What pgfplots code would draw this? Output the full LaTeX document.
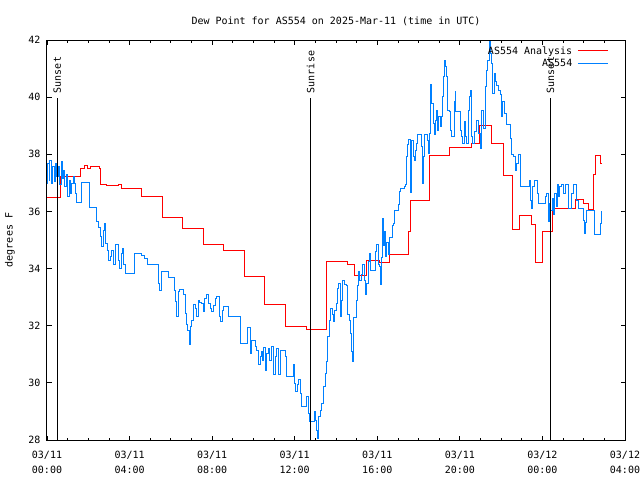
\documentclass[border=0pt]{standalone}
\usepackage{fontspec}
\setmainfont{DejaVu Sans Mono}
\usepackage{pgfplots}
\pgfplotsset{compat=1.18}
\definecolor{obsblue}{RGB}{0,128,255}
\newcommand{\legline}[1]{\hspace{5pt}\tikz[baseline=-3.5pt]\draw[#1, line width=1pt] (0pt,0pt) -- (30pt,0pt);}
\begin{document}
\fontsize{10}{12}\selectfont
\begin{tikzpicture}
\useasboundingbox (-47pt,-40pt) rectangle (593pt,440pt);
\begin{axis}[
  at={(0pt,0pt)}, anchor=south west,
  scale only axis, width=578pt, height=400pt,
  xmin=0, xmax=28, ymin=28, ymax=42,
  xtick={0,4,...,28}, minor x tick num=3,
  xticklabels={{03/11\\00:00},{03/11\\04:00},{03/11\\08:00},{03/11\\12:00},{03/11\\16:00},{03/11\\20:00},{03/12\\00:00},{03/12\\04:00}},
  xticklabel style={align=center, font=\fontsize{10}{15}\selectfont, yshift=-8pt},
  ytick={28,30,...,42},
  yticklabel style={font=\fontsize{10}{12}\selectfont, xshift=-3pt},
  /pgf/number format/assume math mode=true,
  tick align=inside, major tick length=4.5pt, minor tick length=2.5pt,
  axis line style={line width=1pt}, tick style={black, line width=0.8pt},
  title={Dew Point for AS554 on 2025-Mar-11 (time in UTC)},
  title style={font=\fontsize{10}{12}\selectfont, yshift=5pt},
  ylabel={degrees F},
  every axis y label/.style={at={(axis description cs:-0.064,0.5)}, rotate=90, anchor=center, font=\fontsize{10}{12}\selectfont},
  legend plot pos=none,
  legend cell align=right,
  legend style={at={(rel axis cs:0.974,0.9875)}, anchor=north east, draw=none, fill=none,
    font=\fontsize{10}{12}\selectfont, nodes={inner sep=1.5pt, text height=7.5pt, text depth=2pt}, inner sep=0pt},
]
\addplot[color=red, line width=1pt, const plot] coordinates {
(0,36.49) (0.63,37.24) (1.63,37.5) (1.80,37.6) (1.95,37.5) (2.10,37.58) (2.55,37.5)
(2.60,36.96) (2.90,36.9) (3.46,36.96) (3.62,36.82) (4.60,36.54) (5.60,35.8) (6.57,35.42)
(7.57,34.86) (8.54,34.65) (9.56,33.74) (10.56,32.75) (11.56,31.99) (12.55,31.88)
(13.55,34.25) (14.55,34.16) (14.90,33.76) (15.49,34.29) (16.13,34.2) (16.59,34.51)
(17.52,35.3) (17.60,36.4) (18.52,37.96) (19.49,38.24) (20.55,38.38) (20.93,39.01)
(21.54,38.38) (22.11,37.26) (22.54,35.37) (22.87,35.86) (23.48,35.56) (23.68,34.22)
(24.01,35.30) (24.50,36.12) (25.58,36.42) (25.98,36.28) (26.23,36.07) (26.47,37.3)
(26.58,37.96) (26.82,37.68) (26.87,37.68)
};
\addlegendentry{AS554 Analysis\legline{red}}
\addplot[color=obsblue, line width=1pt, const plot] coordinates {
(0.00,36.98) (0.03,37.68) (0.10,37.10) (0.145,37.80) (0.23,36.98) (0.29,37.57) (0.36,37.04)
(0.42,37.68) (0.48,37.22) (0.55,37.57) (0.61,36.93) (0.68,37.74) (0.74,37.16) (0.81,37.45)
(0.87,36.87) (0.94,37.28) (1.00,36.52) (1.07,37.10) (1.13,36.63) (1.20,36.98) (1.26,37.22)
(1.32,36.98) (1.39,36.63) (1.44,36.32) (1.65,37.02) (2.08,36.15) (2.42,35.64) (2.49,35.44)
(2.57,35.12) (2.65,34.77) (2.73,35.35) (2.78,35.58) (2.84,34.88) (2.91,34.65) (3.00,34.30)
(3.07,34.42) (3.13,34.65) (3.20,34.13) (3.33,34.83) (3.46,34.30) (3.52,34.01) (3.59,34.53)
(3.65,34.71) (3.71,34.13) (3.78,33.83) (4.26,34.53) (4.59,34.45) (4.70,34.35) (4.88,34.16)
(5.39,33.48) (5.47,33.25) (5.56,33.89) (5.88,33.68) (6.17,33.25) (6.23,32.84) (6.28,32.32)
(6.36,33.2) (6.44,33.28) (6.61,33.08) (6.69,32.43) (6.75,32.03) (6.82,31.85) (6.88,31.33)
(6.94,31.97) (7.01,32.2) (7.09,32.73) (7.17,32.6) (7.25,32.32) (7.33,32.9) (7.41,32.8)
(7.49,32.78) (7.57,32.49) (7.65,32.96) (7.73,33.08) (7.82,32.78) (7.90,32.61) (7.98,32.49)
(8.06,32.72) (8.14,32.96) (8.22,33.02) (8.35,32.32) (8.42,32.14) (8.48,32.55) (8.54,32.67)
(8.79,32.32) (9.38,31.38) (9.71,31.94) (9.87,31.03) (9.93,31.5) (10.08,31.29) (10.16,31.15)
(10.24,30.63) (10.32,30.91) (10.40,31.09) (10.45,30.8) (10.51,31.23) (10.58,30.45) (10.64,31.03)
(10.72,31.2) (10.80,30.8) (10.89,31.29) (10.97,30.28) (11.05,30.91) (11.13,31.2) (11.21,30.28)
(11.32,31.15) (11.56,30.92) (11.61,30.24) (11.93,30.65) (12.00,29.98) (12.06,29.69) (12.13,29.93)
(12.19,30.13) (12.26,29.63) (12.31,29.17) (12.58,29.52) (12.69,28.93) (12.74,28.64) (12.94,28.99)
(13.00,28.70) (13.05,28.35) (13.10,28.06) (13.16,28.81) (13.26,29.04) (13.32,29.28) (13.39,29.87)
(13.49,30.33) (13.55,30.74) (13.61,31.62) (13.68,32.2) (13.74,32.61) (13.81,32.38) (13.87,32.15)
(13.94,32.55) (14.00,32.78) (14.07,33.31) (14.13,33.48) (14.20,32.32) (14.26,32.9) (14.33,33.58)
(14.39,33.43) (14.52,33.4) (14.58,32.38) (14.65,32.2) (14.71,31.73) (14.74,31.09) (14.79,30.74)
(14.84,32.3) (14.97,32.9) (15.03,33.4) (15.10,33.89) (15.16,33.6) (15.23,33.78) (15.29,34.13)
(15.36,33.6) (15.42,33.08) (15.49,33.48) (15.57,34.24) (15.62,34.53) (15.68,33.95) (15.91,34.59)
(15.97,34.83) (16.04,34.13) (16.10,34.07) (16.17,33.45) (16.22,34.4) (16.25,35.76) (16.30,34.8)
(16.34,35.3) (16.41,34.42) (16.46,34.9) (16.52,34.5) (16.58,35.1) (16.72,35.5) (16.78,35.58)
(16.84,36.03) (17.02,36.25) (17.07,36.69) (17.12,36.81) (17.31,36.87) (17.36,36.93) (17.43,37.92)
(17.47,38.33) (17.52,38.52) (17.59,36.66) (17.64,37.92) (17.68,38.5) (17.73,37.92) (17.78,37.8)
(17.83,38.15) (17.88,38.38) (17.94,38.68) (18.12,38.27) (18.17,37.45) (18.20,36.98) (18.23,37.92)
(18.28,38.68) (18.43,38.5) (18.48,38.03) (18.52,38.73) (18.56,40.43) (18.61,40.19) (18.65,39.78)
(18.72,39.08) (18.78,38.68) (18.83,39.2) (18.88,39.55) (18.93,38.85) (18.98,39.32) (19.04,38.97)
(19.09,39.32) (19.14,40.02) (19.19,40.72) (19.24,41.3) (19.29,41.07) (19.33,40.72) (19.38,39.55)
(19.48,39.49) (19.53,38.85) (19.59,38.62) (19.72,39.84) (19.77,40.19) (19.81,39.49) (20.01,38.85)
(20.06,38.62) (20.11,38.38) (20.22,39.14) (20.27,38.62) (20.33,38.38) (20.43,39.55) (20.46,40.02)
(20.51,40.25) (20.56,38.62) (20.62,38.38) (20.69,38.79) (20.79,39.2) (20.91,38.73) (20.98,38.21)
(21.06,39.55) (21.14,38.9) (21.22,40.37) (21.30,40.95) (21.35,41.3) (21.43,41.94) (21.49,41.53)
(21.54,41.18) (21.59,40.13) (21.66,40.83) (21.72,40.54) (21.79,40.42) (21.87,40.25) (21.95,40.08)
(22.03,39.32) (22.08,39.84) (22.14,39.43) (22.24,39.03) (22.43,38.56) (22.51,37.98) (22.59,37.92)
(22.68,37.45) (22.75,37.68) (22.83,37.98) (22.92,36.87) (23.35,37.1) (23.42,36.4) (23.46,36.11)
(23.51,36.87) (23.60,37.1) (23.74,36.63) (23.81,36.28) (24.05,36.28) (24.13,36.52) (24.21,36.63)
(24.29,35.64) (24.34,36.28) (24.40,36.05) (24.47,36.46) (24.53,35.88) (24.60,36.63) (24.66,36.17)
(24.73,36.93) (24.79,36.52) (24.85,36.87) (24.94,36.93) (25.02,36.63) (25.10,36.93) (25.26,36.11)
(25.42,36.63) (25.50,36.93) (25.66,36.4) (25.74,36.11) (25.98,35.7) (26.03,35.23) (26.08,35.6)
(26.14,36.05) (26.52,35.18) (26.82,35.58) (26.87,36.0)
};
\addlegendentry{AS554\legline{obsblue}}
\addplot[black, line width=1pt, sharp plot, forget plot] coordinates {(0.50,28) (0.50,39.97)};
\addplot[black, line width=1pt, sharp plot, forget plot] coordinates {(12.77,28) (12.77,39.97)};
\addplot[black, line width=1pt, sharp plot, forget plot] coordinates {(24.39,28) (24.39,39.97)};
\node[rotate=90, anchor=west, inner sep=1pt] at (axis cs:0.50,40.1) {Sunset};
\node[rotate=90, anchor=west, inner sep=1pt] at (axis cs:12.77,40.1) {Sunrise};
\node[rotate=90, anchor=west, inner sep=1pt] at (axis cs:24.39,40.1) {Sunset};
\end{axis}
\end{tikzpicture}
\end{document}
